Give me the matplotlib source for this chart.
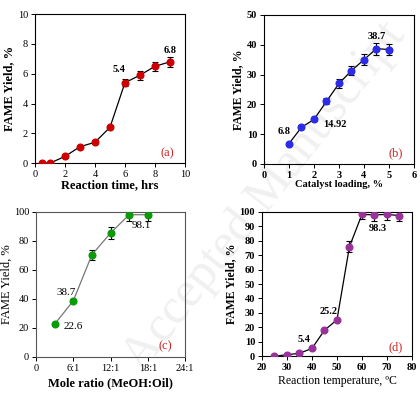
import matplotlib
matplotlib.use("Agg")
import matplotlib.pyplot as plt

plt.rcParams["font.family"] = ["Liberation Serif", "DejaVu Serif"]

# (a) reaction time
time_hrs = [0.5, 1, 2, 3, 4, 5, 6, 7, 8, 9]
yield_time = [0.0, 0.0, 0.45, 1.1, 1.4, 2.4, 5.4, 5.9, 6.5, 6.8]
err_time = [0.05, 0.05, 0.05, 0.08, 0.08, 0.1, 0.25, 0.3, 0.3, 0.35]

# (b) catalyst loading
cat_load = [1, 1.5, 2, 2.5, 3, 3.5, 4, 4.5, 5]
yield_cat = [6.8, 12.3, 14.92, 21.0, 27.0, 31.3, 35.0, 38.7, 38.4]
err_cat = [0.3, 0.4, 0.5, 1.0, 1.4, 1.6, 1.8, 2.0, 2.0]

# (c) mole ratio
ratio_x = [3, 6, 9, 12, 15, 18]
yield_ratio = [22.6, 38.7, 70.5, 85.5, 98.1, 98.1]
err_ratio = [0.5, 1.0, 3.5, 4.0, 4.0, 4.5]
ratio_ticks = [0, 6, 12, 18, 24]
ratio_labels = ["0", "6:1", "12:1", "18:1", "24:1"]

# (d) reaction temperature
temp_c = [25, 30, 35, 40, 45, 50, 55, 60, 65, 70, 75]
yield_temp = [0.0, 1.0, 2.0, 5.4, 18.0, 25.2, 76.0, 98.3, 98.0, 98.3, 97.5]
err_temp = [0.3, 0.3, 0.3, 0.5, 0.6, 0.8, 4.0, 3.0, 4.0, 4.0, 4.0]

fig = plt.figure(figsize=(4.2, 3.94), dpi=100)

# faint watermark, behind the panels
fig.text(0.63, 0.5, "Accepted Manuscript", rotation=52, fontsize=36,
         color="#f0f0f0", ha="center", va="center", zorder=-5)

positions = {
    "a": [0.0833, 0.586, 0.357, 0.378],
    "b": [0.6286, 0.584, 0.357, 0.378],
    "c": [0.0857, 0.094, 0.355, 0.368],
    "d": [0.6238, 0.096, 0.357, 0.366],
}


def style_axis(ax, bold_ticks):
    ax.set_facecolor("none")
    for sp in ax.spines.values():
        sp.set_linewidth(0.8)
    ax.tick_params(labelsize=7.5, length=3, width=0.7, pad=2)
    if bold_ticks:
        for lab in ax.get_xticklabels() + ax.get_yticklabels():
            lab.set_fontweight("bold")


def draw(ax, x, y, err, color, line_color="black"):
    ax.errorbar(x, y, yerr=err, fmt="-o", color=line_color, lw=0.9,
                ecolor="black", elinewidth=0.8, capsize=2.2, capthick=0.8,
                markerfacecolor=color, markeredgecolor=color, markersize=4.8,
                zorder=3)


ax = fig.add_axes(positions["a"])
draw(ax, time_hrs, yield_time, err_time, "#cc0000")
ax.set_xlim(0, 10)
ax.set_ylim(0, 10)
ax.set_xticks([0, 2, 4, 6, 8, 10])
ax.set_yticks([0, 2, 4, 6, 8, 10])
style_axis(ax, False)
ax.set_xlabel("Reaction time, hrs", fontsize=9, fontweight="bold", labelpad=0)
ax.set_ylabel("FAME Yield, %", fontsize=9, fontweight="bold", labelpad=2)
ax.text(5.6, 6.1, "5.4", fontsize=7.5, fontweight="bold", ha="center")
ax.text(9.0, 7.4, "6.8", fontsize=7.5, fontweight="bold", ha="center")
ax.text(8.8, 0.45, "(a)", fontsize=9, color="#cc2222", ha="center")

ax = fig.add_axes(positions["b"])
draw(ax, cat_load, yield_cat, err_cat, "#2b2be8")
ax.set_xlim(0, 6)
ax.set_ylim(0, 50)
ax.set_xticks(range(0, 7))
ax.set_yticks(range(0, 51, 10))
style_axis(ax, True)
ax.set_xlabel("Catalyst loading, %", fontsize=7.5, fontweight="bold", labelpad=0)
ax.set_ylabel("FAME Yield, %", fontsize=8.5, fontweight="bold", labelpad=2)
ax.text(0.8, 10.0, "6.8", fontsize=7.5, fontweight="bold", ha="center")
ax.text(2.85, 12.4, "14.92", fontsize=7.5, fontweight="bold", ha="center")
ax.text(4.5, 41.8, "38.7", fontsize=7.5, fontweight="bold", ha="center")
ax.text(5.25, 2.5, "(b)", fontsize=9, color="#cc2222", ha="center")

ax = fig.add_axes(positions["c"])
draw(ax, ratio_x, yield_ratio, err_ratio, "#0a9a0a", line_color="#777777")
ax.set_xlim(0, 24)
ax.set_ylim(0, 100)
ax.set_xticks(ratio_ticks)
ax.set_xticklabels(ratio_labels)
ax.set_yticks(range(0, 101, 20))
style_axis(ax, False)
for sp in ax.spines.values():
    sp.set_color("#555555")
ax.set_xlabel("Mole ratio (MeOH:Oil)", fontsize=9, fontweight="bold", labelpad=3)
ax.set_ylabel("FAME Yield, %", fontsize=9, labelpad=1)
ax.text(4.9, 42.5, "38.7", fontsize=8, ha="center")
ax.text(6.0, 19.0, "22.6", fontsize=8, ha="center")
ax.text(17.0, 89.0, "98.1", fontsize=8, ha="center")
ax.text(20.8, 5.0, "(c)", fontsize=9, color="#cc2222", ha="center")

ax = fig.add_axes(positions["d"])
draw(ax, temp_c, yield_temp, err_temp, "#993399")
ax.set_xlim(20, 80)
ax.set_ylim(0, 100)
ax.set_xticks(range(20, 81, 10))
ax.set_yticks(range(0, 101, 10))
style_axis(ax, True)
ax.set_xlabel("Reaction temperature, \u00baC", fontsize=8.5, labelpad=2)
ax.set_ylabel("FAME Yield, %", fontsize=8.5, fontweight="bold", labelpad=2)
ax.text(37.0, 10.0, "5.4", fontsize=7.5, fontweight="bold", ha="center")
ax.text(46.5, 29.5, "25.2", fontsize=7.5, fontweight="bold", ha="center")
ax.text(66.5, 86.5, "98.3", fontsize=7.5, fontweight="bold", ha="center")
ax.text(73.5, 4.0, "(d)", fontsize=9, color="#cc2222", ha="center")

fig.savefig("out.png", dpi=100)
